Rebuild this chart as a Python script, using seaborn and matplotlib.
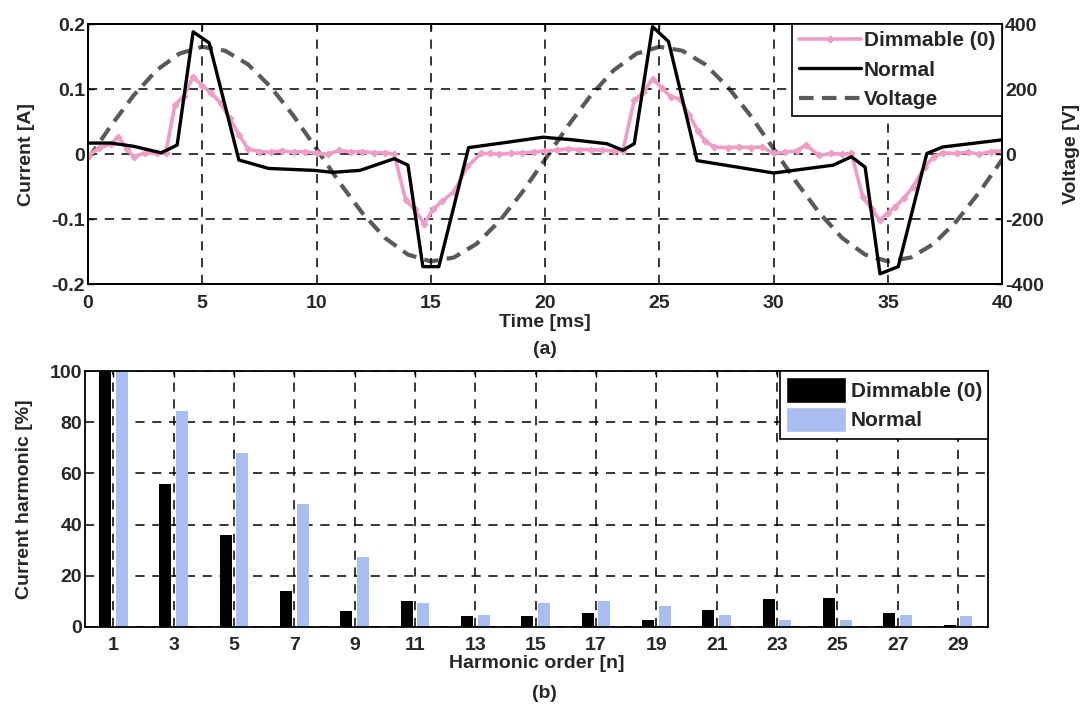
import matplotlib
matplotlib.use("Agg")
import matplotlib.pyplot as plt
import seaborn as sns
import pandas as pd
import numpy as np
from matplotlib.ticker import FuncFormatter, MultipleLocator
from matplotlib.lines import Line2D
from matplotlib.patches import Patch

# ---------------- data: panel (a) ----------------
t_dim = [0.0, 0.5, 1.0, 1.33, 1.7, 2.0, 2.5, 3.0, 3.4, 3.8, 4.2, 4.6, 5.0, 5.4, 5.8,
         6.2, 6.6, 7.0, 7.5, 8.0, 8.5, 9.0, 9.5, 10.0, 10.5, 11.0, 11.5, 12.0, 12.5,
         13.0, 13.4, 13.9, 14.3, 14.7, 15.1, 15.5, 16.0, 16.6, 17.2, 17.6, 18.0, 18.5,
         19.0, 19.5, 20.0, 20.5, 21.0, 21.5, 22.0, 22.5, 23.0, 23.4, 23.9, 24.3, 24.7,
         25.1, 25.5, 25.9, 26.3, 26.7, 27.0, 27.4, 28.0, 28.5, 29.0, 29.5, 30.0, 30.5,
         31.0, 31.4, 32.0, 32.5, 33.0, 33.4, 33.9, 34.3, 34.65, 35.0, 35.3, 35.7, 36.1,
         36.6, 37.0, 37.4, 38.0, 38.5, 39.0, 39.5, 40.0]
i_dim = [-0.003, 0.010, 0.015, 0.027, 0.008, -0.004, 0.002, 0.001, 0.002, 0.075, 0.090,
         0.119, 0.105, 0.094, 0.078, 0.055, 0.030, 0.008, 0.004, 0.003, 0.005, 0.003,
         0.004, 0.001, 0.000, 0.006, 0.003, 0.004, 0.002, 0.002, 0.000, -0.071, -0.085,
         -0.107, -0.085, -0.072, -0.058, -0.019, 0.001, 0.001, 0.000, 0.001, 0.002, 0.003,
         0.005, 0.006, 0.008, 0.007, 0.007, 0.006, 0.005, 0.005, 0.083, 0.095, 0.116,
         0.102, 0.088, 0.085, 0.060, 0.035, 0.020, 0.011, 0.010, 0.011, 0.010, 0.011,
         0.001, 0.003, 0.005, 0.014, -0.002, 0.001, 0.000, 0.001, -0.066, -0.085, -0.102,
         -0.090, -0.081, -0.068, -0.050, -0.020, -0.004, 0.002, 0.001, 0.003, 0.000,
         0.004, 0.005]

t_norm = [0.0, 1.0, 2.0, 3.2, 3.9, 4.6, 5.3, 6.6, 7.9, 9.9, 10.7, 11.9, 13.4, 14.0,
          14.65, 15.35, 16.65, 18.5, 19.9, 21.2, 22.7, 23.4, 23.9, 24.7, 25.4, 26.65,
          30.0, 32.6, 33.4, 34.0, 34.65, 35.45, 36.7, 37.4, 40.0]
i_norm = [0.017, 0.017, 0.012, 0.002, 0.014, 0.188, 0.171, -0.009, -0.022, -0.025,
          -0.028, -0.025, -0.007, -0.017, -0.173, -0.173, 0.010, 0.019, 0.026, 0.022,
          0.016, 0.006, 0.016, 0.196, 0.173, -0.010, -0.029, -0.017, -0.004, -0.020,
          -0.184, -0.173, 0.001, 0.011, 0.022]

t_volt = [0, 1, 2, 3, 4, 5, 6, 7, 8, 9, 10, 11, 12, 13, 14, 15, 16, 17, 18, 19, 20,
          21, 22, 23, 24, 25, 26, 27, 28, 29, 30, 31, 32, 33, 34, 35, 36, 37, 38, 39, 40]
v_volt = [-15, 87, 181, 258, 309, 330, 318, 276, 206, 117, 16, -87, -181, -258, -309,
          -330, -318, -276, -206, -117, -16, 87, 181, 258, 309, 330, 318, 276, 206, 117,
          16, -87, -181, -258, -309, -330, -318, -276, -206, -117, -16]

# ---------------- data: panel (b) ----------------
harmonics = ["1", "3", "5", "7", "9", "11", "13", "15", "17", "19", "21", "23", "25", "27", "29"]
h_dimmable = [100, 55.8, 36.1, 14.1, 6.3, 10.2, 4.2, 4.3, 5.5, 2.9, 6.8, 10.8, 11.5, 5.5, 0.9]
h_normal = [100, 84.4, 67.8, 48.0, 27.4, 9.5, 4.8, 9.4, 10.2, 8.2, 4.8, 2.9, 2.9, 4.8, 4.2]

PINK = "#f09cc6"
BLUE = "#a9bdf0"
VGRAY = "#5a5a5a"

sns.set_theme(style="white")
plt.rcParams["font.family"] = ["Liberation Sans", "DejaVu Sans"]
plt.rcParams["font.weight"] = "bold"
plt.rcParams["axes.labelweight"] = "bold"
plt.rcParams["axes.unicode_minus"] = False
FS = 14
LFS = 15

fig = plt.figure(figsize=(10.8, 7.07), dpi=100)
ax1 = fig.add_axes([0.0815, 0.598, 0.8465, 0.368])
ax2 = ax1.twinx()
ax1.set_zorder(ax2.get_zorder() + 1)
ax1.patch.set_visible(False)

gridkw = dict(color="black", linestyle=(0, (6, 5)), linewidth=1.1)
VDASH = (0, (3.5, 2))

sns.lineplot(x=t_volt, y=v_volt, ax=ax2, color=VGRAY, linewidth=3,
             linestyle=VDASH, legend=False)
sns.lineplot(x=t_dim, y=i_dim, ax=ax1, color=PINK, linewidth=2.6, marker="D",
             markersize=3.5, markeredgecolor=PINK, legend=False)
sns.lineplot(x=t_norm, y=i_norm, ax=ax1, color="black", linewidth=2.4, legend=False)

ax1.set_xlim(0, 40)
ax1.set_ylim(-0.2, 0.2)
ax2.set_ylim(-400, 400)
ax1.xaxis.set_major_locator(MultipleLocator(5))
ax1.yaxis.set_major_locator(MultipleLocator(0.1))
ax1.yaxis.set_major_formatter(FuncFormatter(lambda v, p: f"{v:g}" if abs(v) > 1e-9 else "0"))
ax2.yaxis.set_major_locator(MultipleLocator(200))
ax1.grid(True, **gridkw)
ax1.set_xlabel("Time [ms]", fontsize=FS, fontweight="bold", labelpad=1)
ax1.set_ylabel("Current [A]", fontsize=FS, fontweight="bold", labelpad=12)
ax2.set_ylabel("Voltage [V]", fontsize=FS, fontweight="bold", labelpad=14)
for a in (ax1, ax2):
    a.tick_params(direction="in", length=4, width=1, labelsize=FS, pad=2, color="black")
    for s in a.spines.values():
        s.set_color("black")
        s.set_linewidth(1.3)
    for lab in a.get_xticklabels() + a.get_yticklabels():
        lab.set_fontweight("bold")
ax1.tick_params(top=True, which="both")
ax1.tick_params(axis="x", pad=8)

handles = [Line2D([], [], color=PINK, lw=2.6, marker="D", markersize=3.5),
           Line2D([], [], color="black", lw=2.4),
           Line2D([], [], color=VGRAY, lw=3, linestyle=VDASH)]
leg = ax1.legend(handles, ["Dimmable (0)", "Normal", "Voltage"], loc="upper right",
                 fancybox=False, framealpha=1, edgecolor="black", borderaxespad=0,
                 handlelength=3.0, handletextpad=0.1, labelspacing=0.5,
                 borderpad=0.35, prop=dict(size=LFS, weight="bold"))
leg.get_frame().set_linewidth(1.2)
fig.text(0.5045, 1 - 349 / 707, "(a)", ha="center", va="center", fontsize=FS, fontweight="bold")

# ---------------- panel (b) ----------------
ax3 = fig.add_axes([0.0787, 0.1132, 0.8363, 0.362])
df = pd.DataFrame({
    "harmonic": harmonics * 2,
    "value": h_dimmable + h_normal,
    "series": ["Dimmable (0)"] * len(harmonics) + ["Normal"] * len(harmonics),
})
sns.barplot(data=df, x="harmonic", y="value", hue="series", order=harmonics,
            palette={"Dimmable (0)": "black", "Normal": BLUE}, saturation=1,
            width=0.55, gap=0.27, ax=ax3, legend=False, linewidth=0)
ax3.set_xlim(-0.47, 14.5)
ax3.set_ylim(0, 100)
ax3.yaxis.set_major_locator(MultipleLocator(20))
ax3.set_axisbelow(True)
ax3.grid(True, **gridkw)
ax3.set_xlabel("Harmonic order [n]", fontsize=FS, fontweight="bold", labelpad=1)
ax3.set_ylabel("Current harmonic [%]", fontsize=FS, fontweight="bold", labelpad=12)
ax3.tick_params(direction="in", length=4, width=1, labelsize=FS, pad=2, top=True, color="black")
ax3.tick_params(axis="x", pad=7)
for lab in ax3.get_xticklabels() + ax3.get_yticklabels():
    lab.set_fontweight("bold")
for s in ax3.spines.values():
    s.set_color("black")
    s.set_linewidth(1.3)
h2 = [Patch(facecolor="black"), Patch(facecolor=BLUE)]
leg2 = ax3.legend(h2, ["Dimmable (0)", "Normal"], loc="upper right", fancybox=False,
                  framealpha=1, edgecolor="black", borderaxespad=0, handlelength=2.9,
                  handleheight=1.5, handletextpad=0.2, labelspacing=0.2, borderpad=0.3,
                  prop=dict(size=LFS, weight="bold"))
leg2.get_frame().set_linewidth(1.2)
fig.text(0.5045, 1 - 694 / 707, "(b)", ha="center", va="center", fontsize=FS, fontweight="bold")

fig.savefig("out.png", dpi=100)
